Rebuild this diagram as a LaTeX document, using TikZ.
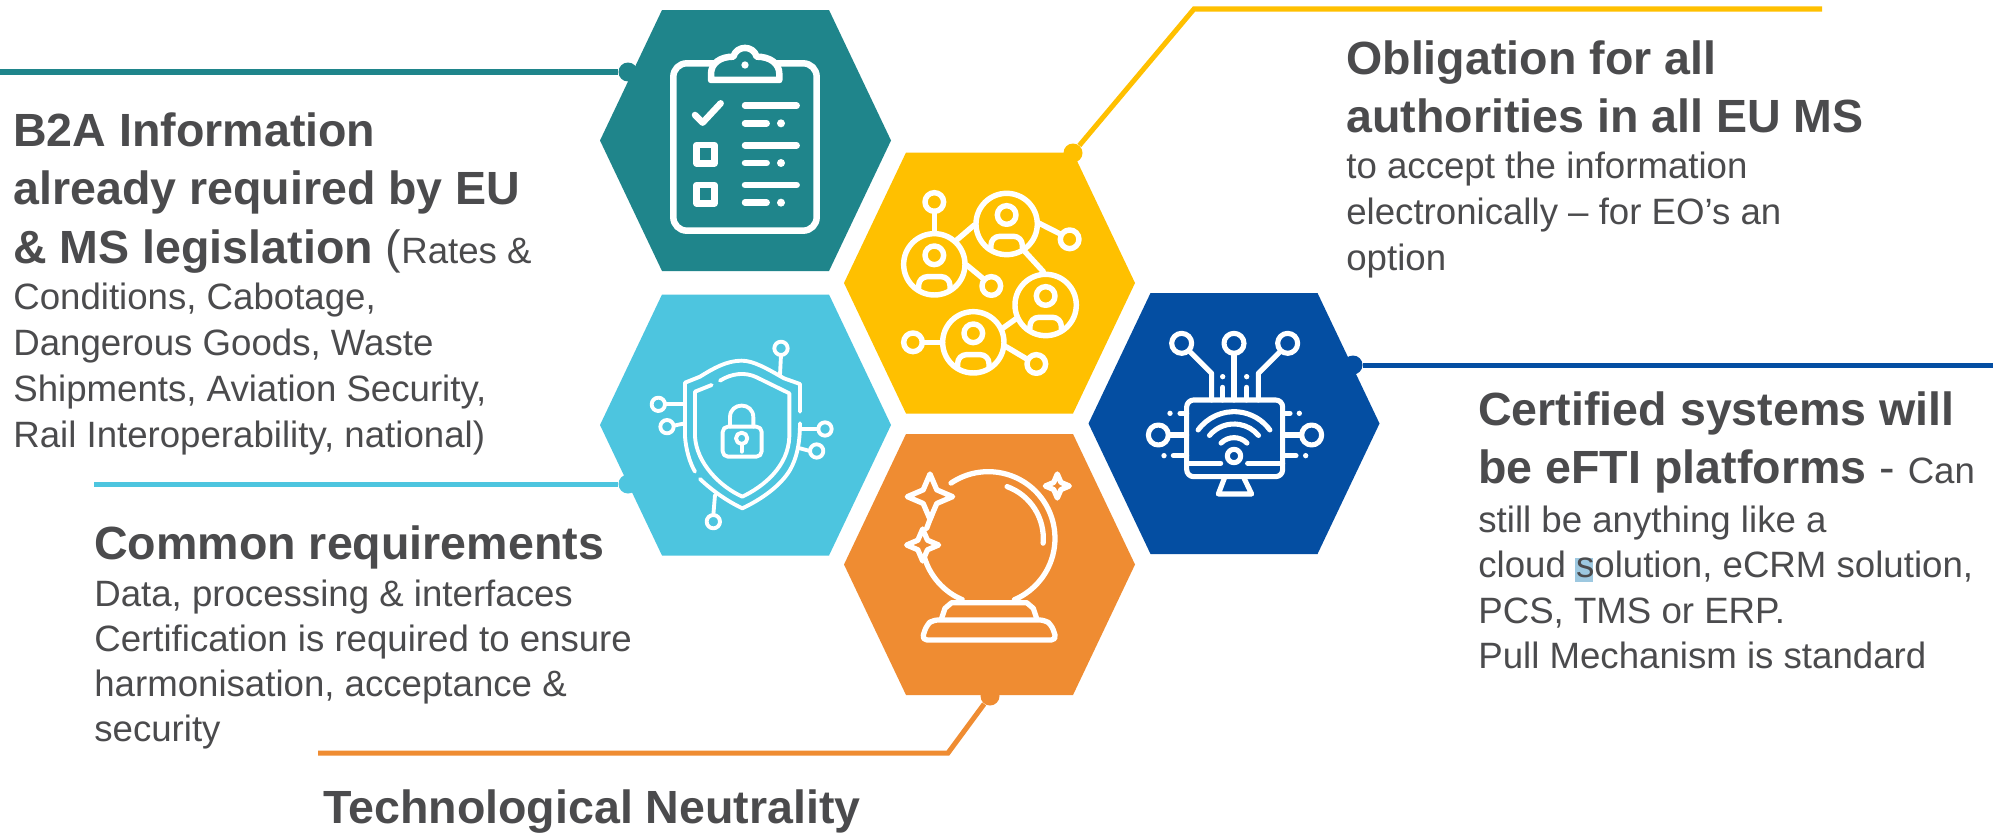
\documentclass[tikz,border=0pt]{standalone}
\usepackage{fontspec}
\setmainfont{Liberation Sans}
\definecolor{cteal}{HTML}{1F858B}
\definecolor{cyell}{HTML}{FFC000}
\definecolor{ccyan}{HTML}{4DC5DF}
\definecolor{coran}{HTML}{EF8C32}
\definecolor{cblue}{HTML}{044EA2}
\definecolor{ctext}{HTML}{4B4B4D}
\definecolor{chigh}{HTML}{9DC8E0}
\newcommand\hdf{\fontsize{26.5pt}{33.3pt}\selectfont\bfseries}
\newcommand\bdf{\fontsize{20.85pt}{26.2pt}\selectfont\mdseries}
\newcommand\tline[1]{\hbox{#1}}
\newcommand\hexa[4]{%
  \fill[#3] ({#1-145.5},#2) -- ({#1-83.5},{#2-130.5}) -- ({#1+83.5},{#2-130.5}) -- ({#1+145.5},#2) -- ({#1+83.5},{#2+130.5}) -- ({#1-83.5},{#2+130.5}) -- cycle;
  \coordinate (#4) at (#1,#2);}
\newcommand\fourstar[3]{%
  ({#1},{#2-#3}) -- ({#1+0.3*#3},{#2-0.3*#3}) -- ({#1+#3},{#2}) -- ({#1+0.3*#3},{#2+0.3*#3}) -- ({#1},{#2+#3}) -- ({#1-0.3*#3},{#2+0.3*#3}) -- ({#1-#3},{#2}) -- ({#1-0.3*#3},{#2-0.3*#3}) -- cycle}
\newcommand\person[2]{%
  \draw[iconline] (#1,#2) circle[radius=92];
  \draw[iconline] (#1,{#2-27}) circle[radius=28];
  \draw[iconline,rounded corners=5pt] ({#1-47},{#2+72}) -- ({#1-47},{#2+37}) -- ({#1+47},{#2+37}) -- ({#1+47},{#2+72});}
\newcommand\satel[3]{\draw[iconline] (#1,#2) circle[radius=#3];}
\tikzset{
  iconline/.style={draw=white,line cap=round,line join=round},
  dotmark/.style={circle,inner sep=0pt,minimum size=19*0.569pt},
  conn/.style={line width=2.85pt},
  lbl/.style={anchor=base west,inner sep=0pt,text=ctext}
}
\begin{document}
\begin{tikzpicture}[x=0.02cm,y=-0.02cm]
\useasboundingbox (0,0) rectangle (1993,835);
\fill[white] (0,0) rectangle (1993,835);
% hexagons
\hexa{745.5}{140.5}{cteal}{hT}
\hexa{989.5}{283}{cyell}{hY}
\hexa{745.5}{425}{ccyan}{hC}
\hexa{989.5}{564.5}{coran}{hO}
\hexa{1234}{423.5}{cblue}{hB}
% connectors
\node[dotmark,fill=cteal] (dT) at (628,72) {};
\coordinate (eT) at (0,72);
\draw[conn,cteal] (dT) -- (eT);
\node[dotmark,fill=cyell] (dY) at (1073,153) {};
\coordinate (mY) at (1194,9);
\coordinate (eY) at (1822,9);
\draw[conn,cyell] (dY) -- (mY) -- (eY);
\node[dotmark,fill=cblue] (dB) at (1353,365) {};
\coordinate (eB) at (1993,365);
\draw[conn,cblue] (dB) -- (eB);
\node[dotmark,fill=ccyan] (dC) at (628,484) {};
\coordinate (eC) at (94,484);
\draw[conn,ccyan] (dC) -- (eC);
\node[dotmark,fill=coran] (dO) at (990,696) {};
\coordinate (mO) at (948,753);
\coordinate (eO) at (318,753);
\draw[conn,coran] (dO) -- (mO) -- (eO);
% teal icon
\begin{scope}[shift={(580,0)},x=0.0066667cm,y=-0.0066667cm]
  \tikzset{iconline/.append style={line width=3.7pt}}
  \draw[iconline,rounded corners=7.6pt] (280,190) rectangle (710,692);
  \draw[iconline,fill=cteal] (393,240) -- (393,222) .. controls (393,190) and (420,170) .. (460,170) .. controls (470,135) and (520,135) .. (530,170) .. controls (570,170) and (598,190) .. (598,222) -- (598,240) -- cycle;
  \fill[white] (495,195) circle[radius=11];
  \draw[iconline] (345,345) -- (368,368) -- (422,310);
  \foreach \yy in {0,119,238}{
    \draw[iconline] (495,317+\yy) -- (650,317+\yy);
    \draw[iconline] (495,370+\yy) -- (560,370+\yy);
    \fill[white] (603,370+\yy) circle[radius=12];
  }
  \draw[iconline] (350,435) rectangle (403,490);
  \draw[iconline] (350,555) rectangle (403,610);
\end{scope}
% yellow icon
\begin{scope}[shift={(580,0)},x=0.0066667cm,y=-0.0066667cm]
  \tikzset{iconline/.append style={line width=3.1pt}}
  \person{1063}{793}
  \person{1280}{672}
  \person{1397}{915}
  \person{1180}{1027}
  \satel{1063}{606}{28}
  \satel{1469}{718}{28}
  \satel{1234}{858}{28}
  \satel{999}{1027}{28}
  \satel{1369}{1092}{28}
  \draw[iconline] (1063,634) -- (1063,700);
  \draw[iconline] (1378,670) -- (1441,702);
  \draw[iconline] (1160,795) -- (1212,838);
  \draw[iconline] (1027,1027) -- (1088,1027);
  \draw[iconline] (1278,1040) -- (1342,1078);
  \draw[iconline] (1128,722) -- (1183,675);
  \draw[iconline] (1335,755) -- (1390,815);
  \draw[iconline] (1268,985) -- (1310,955);
\end{scope}
% cyan icon
\begin{scope}[shift={(580,280)},x=0.0066667cm,y=-0.0066667cm]
  \tikzset{iconline/.append style={line width=2.2pt}}
  \draw[iconline] (660,395) -- (660,312) -- (612,295) .. controls (560,265) and (520,242) .. (485,242) .. controls (440,242) and (400,265) .. (360,290) -- (315,308) -- (315,470) .. controls (318,510) and (330,550) .. (345,575);
  \draw[iconline] (360,597) .. controls (400,635) and (445,665) .. (487,685) .. controls (540,660) and (600,620) .. (630,570) .. controls (650,535) and (660,490) .. (660,430);
  \draw[iconline] (395,315) -- (345,335) -- (345,470) .. controls (350,550) and (420,620) .. (487,650) .. controls (550,620) and (625,560) .. (628,470) -- (628,340) -- (530,292) .. controls (495,275) and (455,280) .. (420,302);
  \draw[iconline,rounded corners=3pt] (428,440) rectangle (545,530);
  \draw[iconline] (450,440) -- (450,412) .. controls (450,365) and (520,365) .. (520,412) -- (520,440);
  \draw[iconline] (485,475) circle[radius=17];
  \draw[iconline] (485,492) -- (485,515);
  \satel{603}{205}{20}
  \draw[iconline] (603,225) -- (600,285);
  \satel{235}{373}{20}
  \draw[iconline] (255,373) -- (315,373);
  \satel{261}{440}{20}
  \draw[iconline] (281,437) -- (315,430);
  \satel{735}{447}{20}
  \draw[iconline] (715,447) -- (660,447);
  \satel{710}{513}{20}
  \draw[iconline] (690,513) -- (660,505);
  \satel{400}{725}{20}
  \draw[iconline] (400,705) -- (405,645);
\end{scope}
% orange icon
\begin{scope}[shift={(580,280)},x=0.0066667cm,y=-0.0066667cm]
  \tikzset{iconline/.append style={line width=3pt}}
  \draw[iconline] ([shift={(-124:200)}]1225,775) arc[start angle=-124,end angle=67,radius=200];
  \draw[iconline] ([shift={(113:200)}]1225,775) arc[start angle=113,end angle=164,radius=200];
  \draw[iconline] (1057,700) -- (1040,745);
  \draw[iconline] ([shift={(-70:165)}]1225,775) arc[start angle=-70,end angle=5,radius=165];
  \draw[iconline] (1085,1015) -- (1095,985) -- (1115,968) -- (1340,968) -- (1360,985) -- (1370,1015);
  \draw[iconline,rounded corners=3pt] (1025,1080) -- (1040,1035) -- (1058,1020) -- (1395,1020) -- (1415,1035) -- (1430,1080) -- cycle;
  \draw[iconline,fill=coran] \fourstar{1050}{650}{68};
  \draw[iconline,fill=coran] \fourstar{1028}{795}{48};
  \draw[iconline] \fourstar{1432}{618}{36};
\end{scope}
% blue icon
\begin{scope}[shift={(1060,280)},x=0.0066667cm,y=-0.0066667cm]
  \tikzset{iconline/.append style={line width=2.9pt}}
  \draw[iconline,rounded corners=4pt] (380,360) rectangle (668,590);
  \draw[iconline] (380,550) -- (482,550);
  \draw[iconline] (563,550) -- (668,550);
  \draw[iconline] (495,590) -- (475,642) -- (575,642) -- (550,590);
  \draw[iconline] ([shift={(-144:133)}]522,528) arc[start angle=-144,end angle=-36,radius=133];
  \draw[iconline] ([shift={(-140:96)}]522,528) arc[start angle=-140,end angle=-40,radius=96];
  \draw[iconline] ([shift={(-135:55)}]522,528) arc[start angle=-135,end angle=-45,radius=55];
  \draw[iconline] (522,528) circle[radius=20];
  \satel{365}{190}{30}
  \satel{522}{190}{30}
  \satel{683}{190}{30}
  \draw[iconline] (390,215) -- (455,280) -- (455,360);
  \draw[iconline] (522,220) -- (522,360);
  \draw[iconline] (660,215) -- (595,280) -- (595,360);
  \draw[iconline] (488,322) -- (488,360);
  \draw[iconline] (560,322) -- (560,360);
  \fill[white] (488,290) circle[radius=8];
  \fill[white] (560,290) circle[radius=8];
  \satel{295}{465}{30}
  \satel{755}{465}{30}
  \draw[iconline] (325,465) -- (380,465);
  \draw[iconline] (725,465) -- (668,465);
  \draw[iconline] (360,400) -- (380,400);
  \draw[iconline] (340,527) -- (380,527);
  \draw[iconline] (668,400) -- (690,400);
  \draw[iconline] (668,527) -- (708,527);
  \fill[white] (330,400) circle[radius=8];
  \fill[white] (312,527) circle[radius=8];
  \fill[white] (718,400) circle[radius=8];
  \fill[white] (737,527) circle[radius=8];
\end{scope}
% selection highlight
\fill[chigh] (1575,558) rectangle (1593,582);
% labels
\node[lbl] (tB2A) at (13,146) {\vtop{\hdf
  \tline{B2A Information}
  \tline{already required by EU}
  \tline{\&\ MS legislation {\mdseries (}\bdf Rates \&}
  \bdf
  \tline{Conditions, Cabotage,}
  \tline{Dangerous Goods, Waste}
  \tline{Shipments, Aviation Security,}
  \tline{Rail Interoperability, national)}}};
\node[lbl] (tObl) at (1346,74) {\vtop{\hdf
  \tline{Obligation for all}
  \tline{authorities in all EU MS}
  \bdf
  \tline{to accept the information}
  \tline{electronically – for EO’s an}
  \tline{option}}};
\node[lbl] (tCert) at (1478,425) {\vtop{\hdf
  \tline{Certified systems will}
  \tline{be eFTI platforms {\mdseries -} \bdf Can}
  \bdf\baselineskip=25.7pt
  \vskip2.3pt
  \tline{still be anything like a}
  \tline{cloud solution, eCRM solution,}
  \tline{PCS, TMS or ERP.}
  \tline{Pull Mechanism is standard}}};
\node[lbl] (tCom) at (94,559.3) {\vtop{\hdf
  \tline{Common requirements}
  \bdf\baselineskip=25.6pt
  \vskip1.4pt
  \tline{Data, processing \&\ interfaces}
  \tline{Certification is required to ensure}
  \tline{harmonisation, acceptance \&}
  \tline{security}}};
\node[lbl] (tTec) at (323,823) {\hdf Technological Neutrality};
\end{tikzpicture}
\end{document}
